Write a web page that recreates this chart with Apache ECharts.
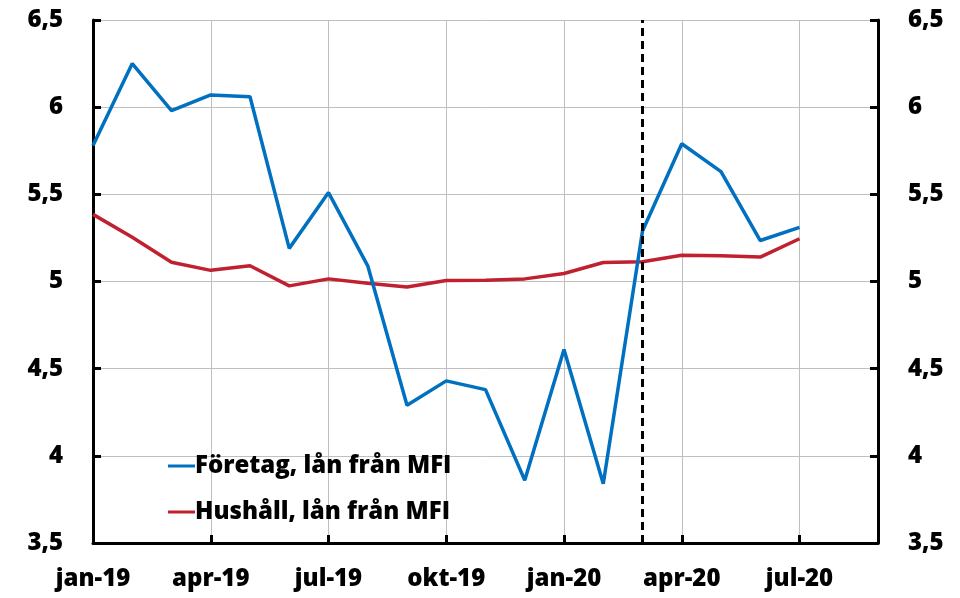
<!DOCTYPE html>
<html>
<head>
<meta charset="utf-8">
<script src="https://cdn.jsdelivr.net/npm/echarts@6/dist/echarts.min.js"></script>
<style>
    html, body { margin: 0; padding: 0; background: #fff; }
</style>
</head>
<body>
<div id="main" style="width: 960px;height:598px;"></div>
<script>
    var months = ['jan-19', 'feb-19', 'mar-19', 'apr-19', 'maj-19', 'jun-19', 'jul-19', 'aug-19', 'sep-19',
        'okt-19', 'nov-19', 'dec-19', 'jan-20', 'feb-20', 'mar-20', 'apr-20', 'maj-20', 'jun-20', 'jul-20',
        'aug-20', 'sep-20'];
    var foretag = [5.78, 6.25, 5.98, 6.07, 6.06, 5.19, 5.51, 5.09, 4.29, 4.43, 4.38, 3.86, 4.61, 3.84,
        5.29, 5.79, 5.63, 5.235, 5.31];
    var hushall = [5.385, 5.254, 5.11, 5.064, 5.09, 4.975, 5.015, 4.99, 4.968, 5.006, 5.007, 5.015, 5.046,
        5.109, 5.113, 5.151, 5.147, 5.14, 5.245];
    var marker_month = 'mar-20';
    var y_min = 3.5, y_max = 6.5, y_step = 0.5;

    var font = '"Open Sans", sans-serif';
    var weight = 800;

    function fmt(v) {
        return String(v).replace('.', ',');
    }
    function every_quarter(i) {
        return i % 3 === 0;
    }

    var my_chart = echarts.init(document.getElementById('main'));
    var y_common = {
        type: 'value',
        min: y_min,
        max: y_max,
        interval: y_step,
        axisLine: { show: true, lineStyle: { color: '#000', width: 3 } },
        axisTick: { show: true, inside: true, length: 8, lineStyle: { color: '#000', width: 3 } },
        axisLabel: {
            formatter: fmt,
            color: '#000',
            fontFamily: font,
            fontWeight: weight,
            fontSize: 24,
            margin: 30
        }
    };
    var option = {
        animation: false,
        grid: { left: 93, right: 82, top: 20, bottom: 55 },
        legend: {
            orient: 'vertical',
            left: 163,
            top: 449,
            itemWidth: 27,
            itemHeight: 3,
            itemGap: 22,
            icon: 'rect',
            textStyle: {
                color: '#000',
                fontFamily: font,
                fontWeight: weight,
                fontSize: 24,
                lineHeight: 24,
                padding: [0, 0, 0, -5]
            },
            data: ['Företag, lån från MFI', 'Hushåll, lån från MFI']
        },
        xAxis: {
            type: 'category',
            boundaryGap: false,
            data: months,
            axisLine: { lineStyle: { color: '#000', width: 3 } },
            axisTick: { inside: true, length: 8, interval: every_quarter, lineStyle: { color: '#000', width: 3 } },
            splitLine: { show: true, interval: every_quarter, lineStyle: { color: '#bfbfbf', width: 1 } },
            axisLabel: {
                interval: 2,
                color: '#000',
                fontFamily: font,
                fontWeight: weight,
                fontSize: 24,
                margin: 24
            }
        },
        yAxis: [
            Object.assign({}, y_common, {
                position: 'left',
                splitLine: { show: true, lineStyle: { color: '#bfbfbf', width: 1 } }
            }),
            Object.assign({}, y_common, {
                position: 'right',
                splitLine: { show: false }
            })
        ],
        series: [
            {
                name: 'Företag, lån från MFI',
                type: 'line',
                data: foretag,
                showSymbol: false,
                symbol: 'none',
                z: 3,
                itemStyle: { color: '#0070c0' },
                lineStyle: { color: '#0070c0', width: 3.5 },
                markLine: {
                    silent: true,
                    symbol: ['none', 'none'],
                    label: { show: false },
                    lineStyle: { color: '#000', type: [8, 5], width: 3 },
                    data: [{ xAxis: marker_month }]
                }
            },
            {
                name: 'Hushåll, lån från MFI',
                type: 'line',
                data: hushall,
                showSymbol: false,
                symbol: 'none',
                z: 2,
                itemStyle: { color: '#c0202f' },
                lineStyle: { color: '#c0202f', width: 3.5 }
            }
        ]
    };

    my_chart.setOption(option);
</script>
</body>
</html>
